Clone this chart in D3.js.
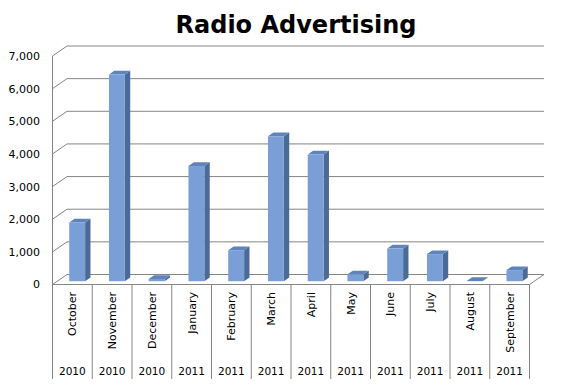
<!DOCTYPE html>
<html>
<head>
<meta charset="utf-8">
<script src="https://cdn.jsdelivr.net/npm/d3@7"></script>
<style>
  body { margin: 0; background: #fff; }
  text { font-family: "DejaVu Sans", Verdana, sans-serif; fill: #000; }
</style>
</head>
<body>
<svg width="565" height="391"></svg>
<script>
// chart data
var months = ["October", "November", "December", "January", "February", "March",
  "April", "May", "June", "July", "August", "September"];
var years = ["2010", "2010", "2010", "2011", "2011", "2011",
  "2011", "2011", "2011", "2011", "2011", "2011"];
var spend = [1800, 6330, 70, 3530, 950, 4440, 3880, 210, 1000, 830, 5, 340];
var yTicks = [0, 1000, 2000, 3000, 4000, 5000, 6000, 7000];

var svg = d3.select("svg");

// 3d geometry: front floor edge, depth vector
var left = 52.5, right = 529.5;
var depthX = 14.5, depthY = -10;
var t0 = 0.33, t1 = 0.7; // bar depth, as fraction of floor depth

var y = d3.scaleLinear().domain([0, 7000]).range([284.5, 56]);
var x = d3.scaleBand().domain(d3.range(months.length))
  .range([left, right]).paddingInner(0.6).paddingOuter(0.3);
var cat = d3.scaleBand().domain(d3.range(months.length)).range([left, right]);

var gridColor = "#858585";
var fmt = d3.format(",");

// left wall diagonals + back wall gridlines
var walls = svg.append("g").attr("stroke", gridColor).attr("stroke-width", 1).attr("fill", "none");
walls.selectAll("line.diag").data(yTicks).enter().append("line")
  .attr("class", "diag")
  .attr("x1", left).attr("y1", function(d) { return y(d); })
  .attr("x2", left + depthX).attr("y2", function(d) { return y(d) + depthY; });
walls.selectAll("line.grid").data(yTicks).enter().append("line")
  .attr("class", "grid")
  .attr("x1", left + depthX).attr("y1", function(d) { return y(d) + depthY; })
  .attr("x2", right + depthX).attr("y2", function(d) { return y(d) + depthY; });

// front y axis line and floor outline
walls.append("line").attr("x1", left).attr("x2", left).attr("y1", y(7000)).attr("y2", y(0));
walls.append("line").attr("x1", left).attr("x2", right).attr("y1", y(0)).attr("y2", y(0));
walls.append("line").attr("x1", right).attr("x2", right + depthX).attr("y1", y(0)).attr("y2", y(0) + depthY);

// y labels
svg.append("g").selectAll("text").data(yTicks).enter().append("text")
  .attr("x", 40).attr("y", function(d) { return y(d); })
  .attr("dy", "0.36em")
  .attr("text-anchor", "end")
  .style("font-size", "11px")
  .text(function(d) { return fmt(d); });

// bars: front face, side, top
var bars = svg.append("g").selectAll("g").data(spend).enter().append("g");
var sx = (t1 - t0) * depthX, sy = (t1 - t0) * depthY;
function fx(i) { return x(i) + t0 * depthX; }
function fy(v) { return y(v) + t0 * depthY; }

bars.append("path")
  .attr("fill", "#4a6a9a")
  .attr("d", function(d, i) {
    var xr = fx(i) + x.bandwidth();
    return "M" + xr + "," + fy(0) + "L" + xr + "," + fy(d) +
      "L" + (xr + sx) + "," + (fy(d) + sy) + "L" + (xr + sx) + "," + (fy(0) + sy) + "Z";
  });
bars.append("path")
  .attr("fill", "#5f83bb")
  .attr("d", function(d, i) {
    var xl = fx(i), xr = xl + x.bandwidth();
    return "M" + xl + "," + fy(d) + "L" + xr + "," + fy(d) +
      "L" + (xr + sx) + "," + (fy(d) + sy) + "L" + (xl + sx) + "," + (fy(d) + sy) + "Z";
  });
bars.append("rect")
  .attr("fill", "#7a9fd6")
  .attr("x", function(d, i) { return fx(i); })
  .attr("y", function(d) { return fy(d); })
  .attr("width", x.bandwidth())
  .attr("height", function(d) { return fy(0) - fy(d); });

// category separators under the floor
var bottom = 379;
svg.append("g").attr("stroke", gridColor).selectAll("line")
  .data(d3.range(months.length + 1)).enter().append("line")
  .attr("x1", function(i) { return left + i * cat.step(); })
  .attr("x2", function(i) { return left + i * cat.step(); })
  .attr("y1", y(0)).attr("y2", bottom);

// month labels, rotated
svg.append("g").selectAll("text").data(months).enter().append("text")
  .attr("transform", function(d, i) {
    return "translate(" + (cat(i) + cat.bandwidth() / 2) + ",292) rotate(-90)";
  })
  .attr("text-anchor", "end")
  .attr("dy", "0.36em")
  .style("font-size", "11px")
  .text(function(d) { return d; });

// year labels
svg.append("g").selectAll("text").data(years).enter().append("text")
  .attr("x", function(d, i) { return cat(i) + cat.bandwidth() / 2; })
  .attr("y", 371)
  .attr("dy", "0.36em")
  .attr("text-anchor", "middle")
  .style("font-size", "10.5px")
  .text(function(d) { return d; });

// title
svg.append("text")
  .attr("x", 296).attr("y", 33)
  .attr("text-anchor", "middle")
  .style("font-size", "24px")
  .style("font-weight", "bold")
  .text("Radio Advertising");
</script>
</body>
</html>
